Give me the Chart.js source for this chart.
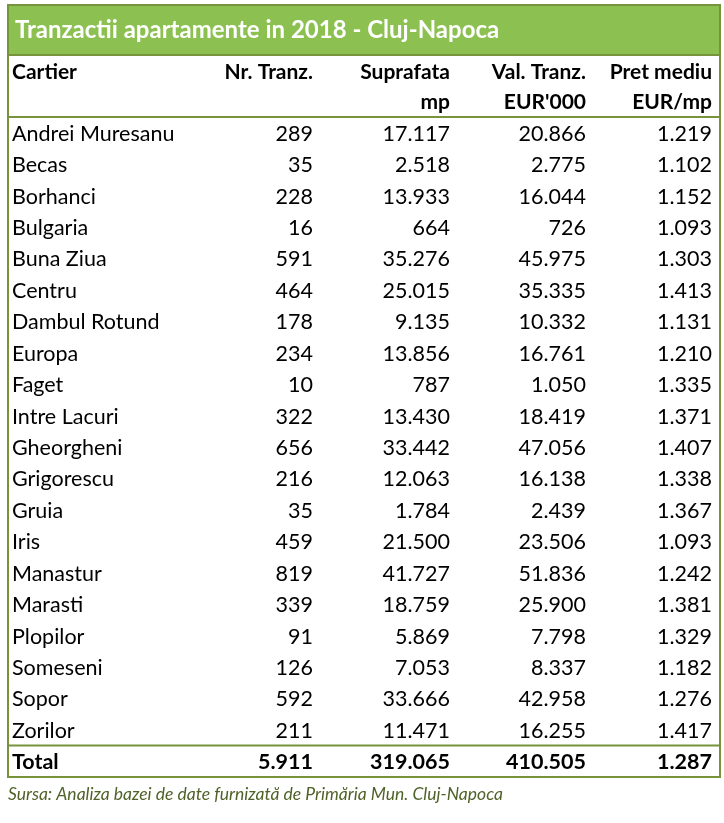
<!DOCTYPE html>
<html>
<head>
<meta charset="utf-8">
<script src="https://cdn.jsdelivr.net/npm/chart.js@4"></script>
<style>
  body { margin: 0; background: #fff; }
  #wrap { width: 724px; height: 823px; }
</style>
</head>
<body>
<div id="wrap"><canvas id="tbl"></canvas></div>
<script>
const title = 'Tranzactii apartamente in 2018 - Cluj-Napoca';
const source = 'Sursa: Analiza bazei de date furnizată de Primăria Mun. Cluj-Napoca';
const headers = [['Cartier', ''], ['Nr. Tranz.', ''], ['Suprafata', 'mp'], ['Val. Tranz.', "EUR'000"], ['Pret mediu', 'EUR/mp']];
const cartiere = ['Andrei Muresanu', 'Becas', 'Borhanci', 'Bulgaria', 'Buna Ziua', 'Centru', 'Dambul Rotund',
  'Europa', 'Faget', 'Intre Lacuri', 'Gheorgheni', 'Grigorescu', 'Gruia', 'Iris', 'Manastur', 'Marasti',
  'Plopilor', 'Someseni', 'Sopor', 'Zorilor', 'Total'];
const nrTranz = ['289', '35', '228', '16', '591', '464', '178', '234', '10', '322', '656', '216', '35', '459', '819', '339', '91', '126', '592', '211', '5.911'];
const suprafata = ['17.117', '2.518', '13.933', '664', '35.276', '25.015', '9.135', '13.856', '787', '13.430', '33.442', '12.063', '1.784', '21.500', '41.727', '18.759', '5.869', '7.053', '33.666', '11.471', '319.065'];
const valTranz = ['20.866', '2.775', '16.044', '726', '45.975', '35.335', '10.332', '16.761', '1.050', '18.419', '47.056', '16.138', '2.439', '23.506', '51.836', '25.900', '7.798', '8.337', '42.958', '16.255', '410.505'];
const pretMediu = ['1.219', '1.102', '1.152', '1.093', '1.303', '1.413', '1.131', '1.210', '1.335', '1.371', '1.407', '1.338', '1.367', '1.093', '1.242', '1.381', '1.329', '1.182', '1.276', '1.417', '1.287'];

const cols = [cartiere, nrTranz, suprafata, valTranz, pretMediu];
const colX = [12, 313, 450, 586, 712];
const colAlign = ['left', 'right', 'right', 'right', 'right'];
const green = '#8cc152', border = '#77933c';
const FONT = 'Lato, "Open Sans", sans-serif';

const tablePlugin = {
  id: 'tablePlugin',
  afterDraw(chart) {
    const ctx = chart.ctx, y = chart.scales.y;
    const step = y.getPixelForValue(1) - y.getPixelForValue(0);
    const top = y.getPixelForValue(0) - step / 2;
    const last = cartiere.length - 1;
    const totalTop = y.getPixelForValue(last) - step / 2;
    const bottom = y.getPixelForValue(last) + step / 2;
    ctx.save();
    // title bar
    ctx.fillStyle = green;
    ctx.fillRect(8, 5, 713, 50);
    ctx.fillStyle = '#fff';
    ctx.font = 'bold 24px ' + FONT;
    ctx.textBaseline = 'middle';
    ctx.textAlign = 'left';
    ctx.fillText(title, 15, 30);
    // headers
    ctx.fillStyle = '#000';
    ctx.font = 'bold 21px ' + FONT;
    headers.forEach((h, c) => {
      ctx.textAlign = colAlign[c];
      ctx.fillText(h[0], colX[c], 72);
      if (h[1]) ctx.fillText(h[1], colX[c], 102);
    });
    // rows
    cols.forEach((col, c) => {
      ctx.textAlign = colAlign[c];
      col.forEach((v, i) => {
        ctx.font = (i === last ? 'bold ' : '') + '21.5px ' + FONT;
        ctx.fillText(v, colX[c], y.getPixelForValue(i) + 1);
      });
    });
    // borders
    ctx.strokeStyle = border;
    ctx.lineWidth = 2;
    ctx.strokeRect(8, 5, 712, bottom - 5);
    ctx.beginPath();
    ctx.moveTo(8, 55); ctx.lineTo(720, 55);
    ctx.moveTo(8, top); ctx.lineTo(720, top);
    ctx.moveTo(8, totalTop); ctx.lineTo(720, totalTop);
    ctx.stroke();
    // source
    ctx.fillStyle = '#4f6228';
    ctx.font = 'italic 17.5px ' + FONT;
    ctx.textAlign = 'left';
    ctx.fillText(source, 8, bottom + 17);
    ctx.restore();
  }
};

new Chart(document.getElementById('tbl'), {
  type: 'bar',
  data: { labels: cartiere, datasets: [{ data: cartiere.map(() => null) }] },
  options: {
    indexAxis: 'y',
    responsive: true,
    maintainAspectRatio: false,
    animation: false,
    layout: { padding: { top: 117, bottom: 46, left: 0, right: 0 } },
    scales: {
      y: { type: 'category', display: false },
      x: { display: false, min: 0, max: 1 }
    },
    plugins: { legend: { display: false }, tooltip: { enabled: false } }
  },
  plugins: [tablePlugin]
});
</script>
</body>
</html>
